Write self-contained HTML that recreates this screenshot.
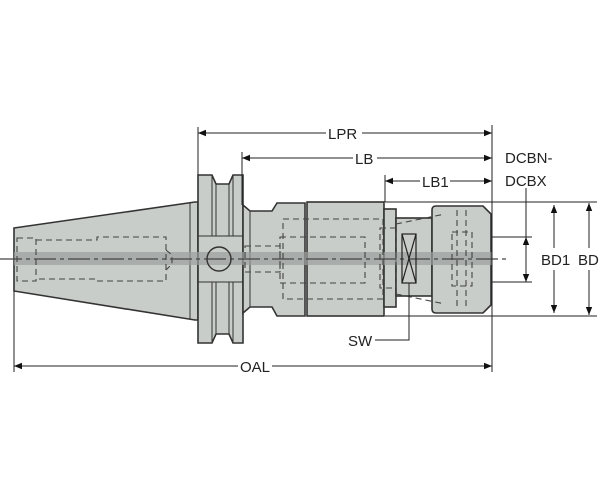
<!DOCTYPE html>
<html><head><meta charset="utf-8"><style>
html,body{margin:0;padding:0;background:#fff;}
svg{display:block;}
text{font-family:"Liberation Sans",sans-serif;font-size:15px;fill:#222;}
</style></head><body>
<svg width="600" height="499" viewBox="0 0 600 499" xmlns="http://www.w3.org/2000/svg">
<defs>
<marker id="a" viewBox="0 0 10 10" refX="10" refY="5" markerWidth="10" markerHeight="8" orient="auto-start-reverse" markerUnits="userSpaceOnUse"><path d="M0,1 L10,5 L0,9 z" fill="#111"/></marker>
</defs>
<g stroke="#333" stroke-width="1.6" fill="#c9cdc9">
<!-- taper -->
<polygon points="14,228 195,202 198,202 198,320 195,320 14,291"/>
<line x1="190" y1="203" x2="190" y2="319" stroke-width="1"/>
<!-- flange -->
<polygon points="198,175 212,175 216,184 229,184 233,175 243,175 243,343 233,343 229,334 216,334 212,343 198,343"/>
<line x1="212" y1="175" x2="212" y2="236" stroke-width="1"/><line x1="233" y1="175" x2="233" y2="236" stroke-width="1"/>
<line x1="216" y1="184" x2="216" y2="236" stroke-width="1"/><line x1="229" y1="184" x2="229" y2="236" stroke-width="1"/>
<line x1="212" y1="282" x2="212" y2="343" stroke-width="1"/><line x1="233" y1="282" x2="233" y2="343" stroke-width="1"/>
<line x1="216" y1="282" x2="216" y2="334" stroke-width="1"/><line x1="229" y1="282" x2="229" y2="334" stroke-width="1"/>
<line x1="198" y1="236" x2="243" y2="236" stroke-width="1"/><line x1="198" y1="282" x2="243" y2="282" stroke-width="1"/>
<!-- neck -->
<polygon points="243,205 250,211 272,211 277,203 305,203 305,316 277,316 272,307 250,307 243,313"/>
<line x1="250" y1="211" x2="250" y2="307" stroke-width="1"/>
<!-- body -->
<rect x="307" y="202" width="77" height="114"/>
<rect x="384" y="209" width="12" height="98"/>
<rect x="396" y="218" width="36" height="78"/>
<!-- nut -->
<path d="M436,206 H483 L491,214 V305 L483,313 H436 Q432,313 432,309 V210 Q432,206 436,206 Z"/>
</g>
<!-- center band -->
<rect x="14" y="252" width="478" height="13" fill="#9a9e9c" opacity="0.7"/>
<line x1="0" y1="259" x2="510" y2="259" stroke="#444" stroke-width="1.2" stroke-dasharray="22,4,4,4"/>
<circle cx="219" cy="259" r="12" fill="none" stroke="#333" stroke-width="1.4"/>
<!-- hidden lines -->
<g fill="none" stroke="#444" stroke-width="1.1" stroke-dasharray="6,4">
<rect x="17" y="238" width="19" height="43"/>
<path d="M36,240 H97 V237 H166 V281 H97 V279 H36"/>
<path d="M166,250 L172,255 V264 L166,270"/>
<rect x="245" y="246" width="35" height="26"/>
<rect x="283" y="219" width="100" height="80"/>
<rect x="280" y="237" width="85" height="46"/>
<rect x="380" y="228" width="16" height="60"/>
<path d="M396,224 L445,214 M396,294 L445,304"/>
<rect x="452" y="232" width="20" height="54"/>
<line x1="457" y1="210" x2="457" y2="308"/>
<line x1="466" y1="210" x2="466" y2="308"/>
</g>
<!-- SW box -->
<g stroke="#222" stroke-width="1.2" fill="none">
<rect x="402" y="234" width="14" height="49"/>
<path d="M402,234 L416,283 M416,234 L402,283"/>
</g>
<!-- dimension lines -->
<g stroke="#222" stroke-width="1" fill="none">
<line x1="14" y1="291" x2="14" y2="372"/>
<line x1="198" y1="127" x2="198" y2="175"/>
<line x1="242" y1="152" x2="242" y2="205"/>
<line x1="385" y1="175" x2="385" y2="202"/>
<line x1="492" y1="125" x2="492" y2="372"/>
<line x1="385" y1="202" x2="597" y2="202"/>
<line x1="385" y1="316" x2="597" y2="316"/>
<line x1="492" y1="237" x2="532" y2="237"/>
<line x1="492" y1="282" x2="532" y2="282"/>
<line x1="526" y1="188" x2="526" y2="237"/>
<line x1="198" y1="133" x2="326" y2="133" marker-start="url(#a)"/>
<line x1="362" y1="133" x2="492" y2="133" marker-end="url(#a)"/>
<line x1="242" y1="158" x2="353" y2="158" marker-start="url(#a)"/>
<line x1="377" y1="158" x2="492" y2="158" marker-end="url(#a)"/>
<line x1="385" y1="181" x2="420" y2="181" marker-start="url(#a)"/>
<line x1="450" y1="181" x2="492" y2="181" marker-end="url(#a)"/>
<line x1="14" y1="366" x2="238" y2="366" marker-start="url(#a)"/>
<line x1="272" y1="366" x2="492" y2="366" marker-end="url(#a)"/>
<line x1="526" y1="237" x2="526" y2="282" marker-start="url(#a)" marker-end="url(#a)"/>
<line x1="554" y1="205" x2="554" y2="248" marker-start="url(#a)"/>
<line x1="554" y1="270" x2="554" y2="313" marker-end="url(#a)"/>
<line x1="589" y1="203" x2="589" y2="248" marker-start="url(#a)"/>
<line x1="589" y1="270" x2="589" y2="315" marker-end="url(#a)"/>
<polyline points="375,340 409,340 409,283"/>
</g>
<text x="328" y="139">LPR</text>
<text x="355" y="164">LB</text>
<text x="422" y="187">LB1</text>
<text x="240" y="372">OAL</text>
<text x="505" y="163">DCBN-</text>
<text x="505" y="186">DCBX</text>
<text x="541" y="265">BD1</text>
<text x="578" y="265">BD</text>
<text x="348" y="346">SW</text>
</svg>
</body></html>
